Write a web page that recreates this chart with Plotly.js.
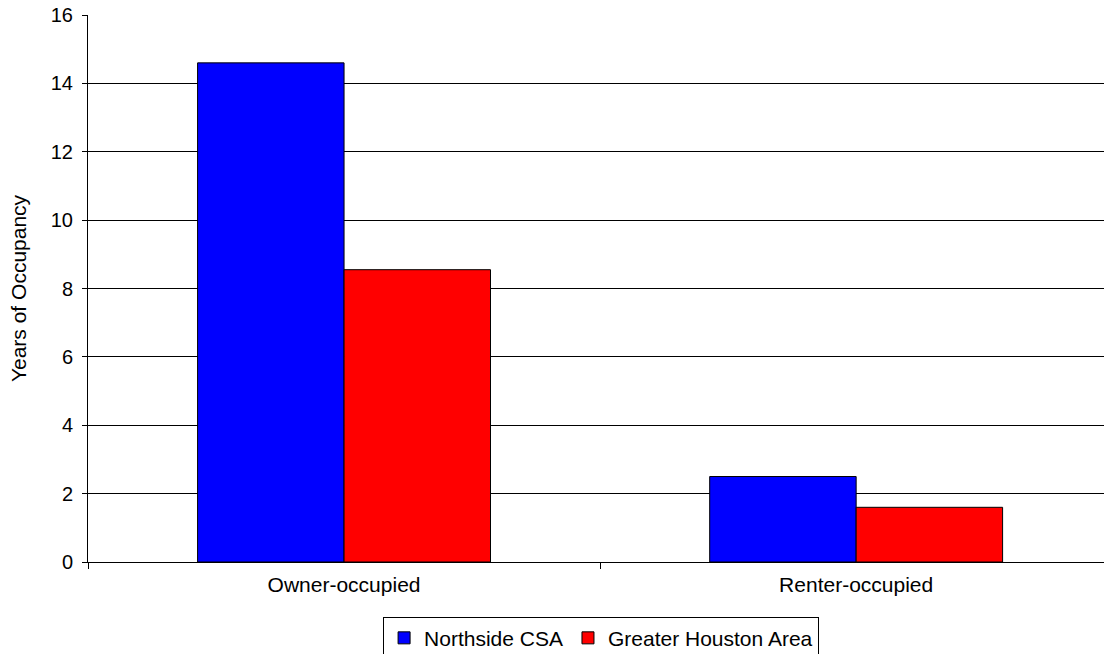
<!DOCTYPE html>
<html>
<head>
<meta charset="utf-8">
<script src="https://cdn.plot.ly/plotly-3.0.1.min.js"></script>
<style>html,body{margin:0;padding:0;background:#fff;}#chart{width:1104px;height:654px;}</style>
</head>
<body>
<div id="chart"></div>
<script>
var categories = ["Owner-occupied", "Renter-occupied"];
var seriesNames = ["Northside CSA", "Greater Houston Area"];
var northside = [14.6, 2.5];
var greaterHouston = [8.55, 1.6];
var yTicks = [0, 2, 4, 6, 8, 10, 12, 14, 16];

var font = "Liberation Sans, Arial, sans-serif";

var traces = [
  {type: "bar", name: seriesNames[0], x: categories, y: northside,
   marker: {color: "#0000ff", line: {color: "#000", width: 1}}},
  {type: "bar", name: seriesNames[1], x: categories, y: greaterHouston,
   marker: {color: "#ff0000", line: {color: "#000", width: 1}}}
];

var layout = {
  width: 1104, height: 654,
  margin: {l: 88, r: 0, t: 15, b: 92, pad: 0, autoexpand: false},
  paper_bgcolor: "#fff", plot_bgcolor: "#fff",
  font: {family: font, size: 21, color: "#000"},
  barmode: "group", bargap: 0.428, bargroupgap: 0,
  showlegend: true,
  legend: {orientation: "h", x: 0.505, xanchor: "center", y: -0.1, yanchor: "top",
           bordercolor: "#000", borderwidth: 1, font: {family: font, size: 21, color: "#000"},
           itemwidth: 30, traceorder: "normal"},
  xaxis: {type: "category", range: [-0.5, 1.484], showgrid: false, zeroline: false,
          showline: true, linecolor: "#000", linewidth: 1,
          ticks: "outside", tickson: "boundaries", ticklen: 6, tickcolor: "#000",
          ticklabelstandoff: 4,
          tickfont: {family: font, size: 21, color: "#000"}, fixedrange: true},
  yaxis: {range: [0, 16], tickvals: yTicks, ticktext: yTicks.map(String),
          showgrid: true, gridcolor: "#000", gridwidth: 1, zeroline: false,
          showline: true, linecolor: "#000", linewidth: 1,
          ticks: "outside", ticklen: 5, tickcolor: "#000", ticklabelstandoff: 5,
          tickfont: {family: font, size: 20, color: "#000"},
          title: {text: "Years of Occupancy", font: {family: font, size: 21, color: "#000"}, standoff: 18},
          fixedrange: true}
};

Plotly.newPlot("chart", traces, layout, {displayModeBar: false, staticPlot: true});
</script>
</body>
</html>
